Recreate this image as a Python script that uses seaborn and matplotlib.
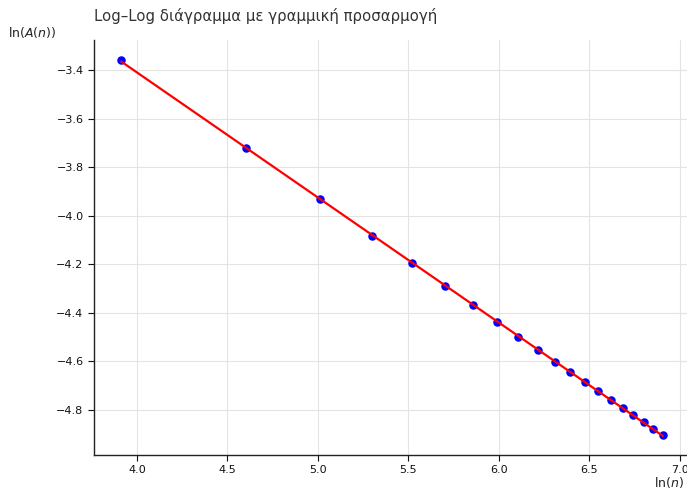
import numpy as np
import matplotlib
matplotlib.use("Agg")
import matplotlib.pyplot as plt
import seaborn as sns

ln_n = [3.912, 4.605, 5.011, 5.298, 5.521, 5.704, 5.858, 5.991, 6.109, 6.215,
        6.310, 6.397, 6.477, 6.551, 6.620, 6.685, 6.745, 6.802, 6.856, 6.908]
ln_A = [-3.359, -3.721, -3.931, -4.083, -4.194, -4.288, -4.367, -4.437, -4.499, -4.553,
        -4.602, -4.643, -4.684, -4.721, -4.759, -4.792, -4.821, -4.849, -4.878, -4.903]

sns.set_style("whitegrid", {"grid.color": "#e3e3e3", "axes.edgecolor": "#222222"})
plt.rcParams["font.family"] = ["DejaVu Sans"]

fig = plt.figure(figsize=(6.87, 4.91), dpi=100)
ax = fig.add_axes([94 / 687, 36 / 491, 596 / 687, 415 / 491])

sns.regplot(x=ln_n, y=ln_A, ci=None, ax=ax,
            scatter_kws={"color": "blue", "s": 26, "alpha": 1, "zorder": 2},
            line_kws={"color": "red", "lw": 1.6, "zorder": 3})

ax.set_xlim(3.762, 7.058)
ax.set_ylim(-4.985, -3.2765)
ax.set_xticks([4.0, 4.5, 5.0, 5.5, 6.0, 6.5, 7.0])
ax.set_yticks([-4.8, -4.6, -4.4, -4.2, -4.0, -3.8, -3.6, -3.4])
ax.tick_params(axis="both", labelsize=8, length=4, width=0.8, direction="out",
               bottom=True, left=True, colors="#111111")
ax.spines["top"].set_visible(False)
ax.spines["right"].set_visible(False)
ax.spines["left"].set_linewidth(1.0)
ax.spines["bottom"].set_linewidth(1.0)

fig.text(94 / 687, 1 - 16 / 491, "Log–Log διάγραμμα με γραμμική προσαρμογή",
         fontsize=10.7, color="#333333", ha="left", va="center")
fig.text(8 / 687, 1 - 33 / 491, r"$\ln(A(n))$", fontsize=9, color="#222222",
         ha="left", va="center")
fig.text(684 / 687, 1 - 482 / 491, r"$\ln(n)$", fontsize=9, color="#222222",
         ha="right", va="center")

fig.savefig("out.png", dpi=100)
